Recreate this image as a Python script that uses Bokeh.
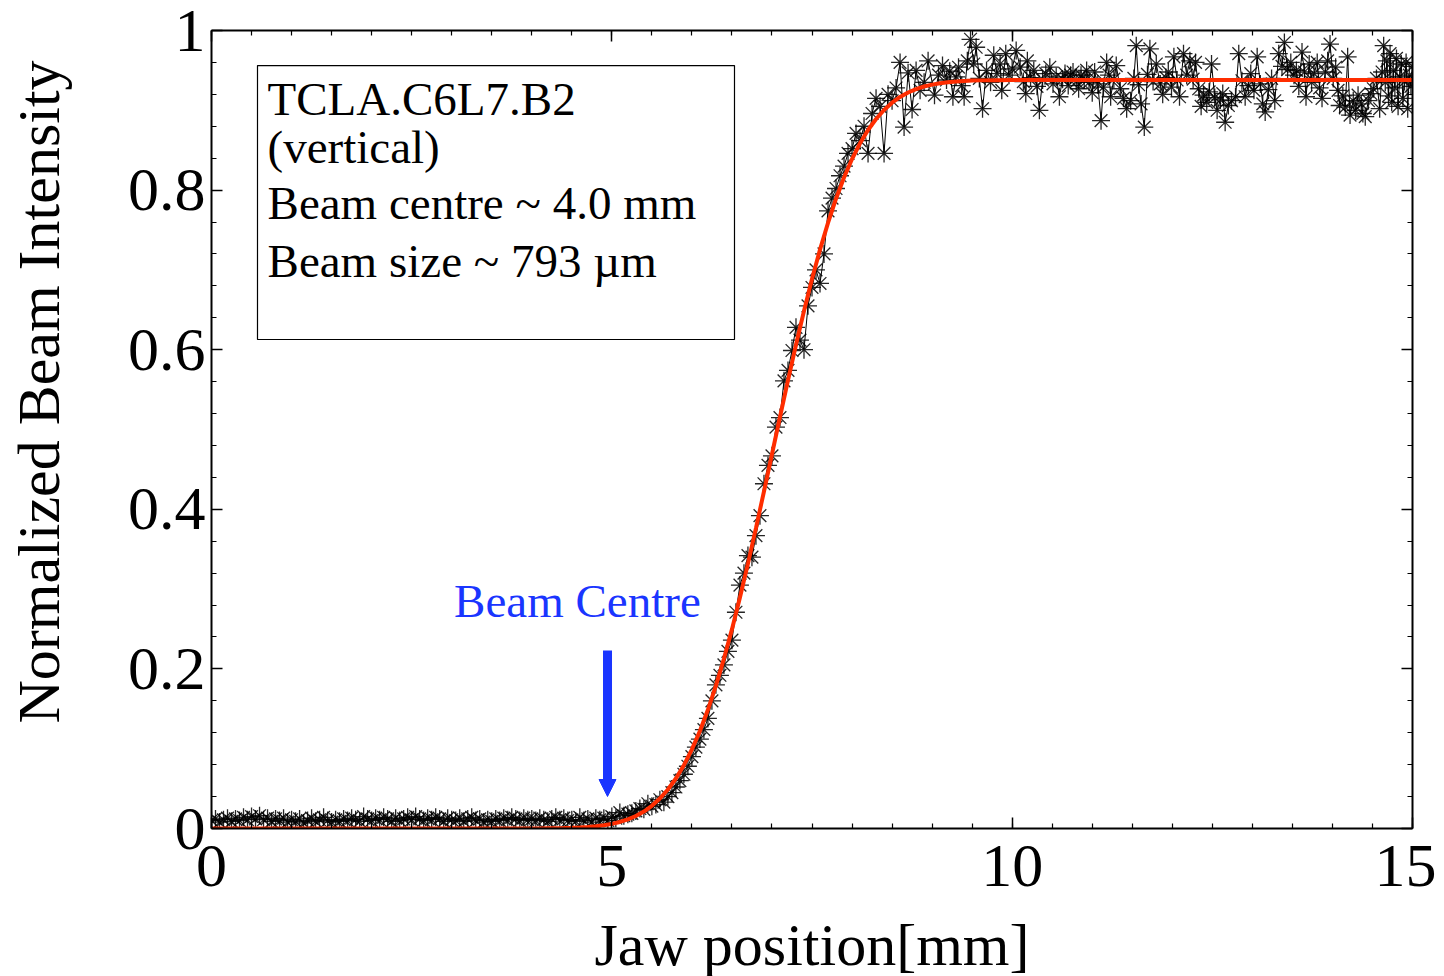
from bokeh.plotting import figure
from bokeh.models import (FixedTicker, LinearAxis, Label, BoxAnnotation, Arrow,
                          NormalHead, Range1d)
from bokeh.embed import file_html
from bokeh.resources import INLINE

FONT = "Liberation Serif"
BLUE = "#1a35ff"
RED = "#ff2d00"

# ---------------- data ----------------
x_flat = [0.00, 0.05, 0.10, 0.15, 0.20, 0.25, 0.30, 0.35, 0.40, 0.45,
          0.50, 0.55, 0.60, 0.65, 0.70, 0.75, 0.80, 0.85, 0.90, 0.95,
          1.00, 1.05, 1.10, 1.15, 1.20, 1.25, 1.30, 1.35, 1.40, 1.45,
          1.50, 1.55, 1.60, 1.65, 1.70, 1.75, 1.80, 1.85, 1.90, 1.95,
          2.00, 2.05, 2.10, 2.15, 2.20, 2.25, 2.30, 2.35, 2.40, 2.45,
          2.50, 2.55, 2.60, 2.65, 2.70, 2.75, 2.80, 2.85, 2.90, 2.95,
          3.00, 3.05, 3.10, 3.15, 3.20, 3.25, 3.30, 3.35, 3.40, 3.45,
          3.50, 3.55, 3.60, 3.65, 3.70, 3.75, 3.80, 3.85, 3.90, 3.95,
          4.00, 4.05, 4.10, 4.15, 4.20, 4.25, 4.30, 4.35, 4.40, 4.45]
y_flat = [0.010, 0.012, 0.008, 0.011, 0.013, 0.009, 0.012, 0.010, 0.014, 0.011,
          0.015, 0.012, 0.016, 0.011, 0.013, 0.009, 0.012, 0.010, 0.013, 0.008,
          0.011, 0.009, 0.012, 0.007, 0.010, 0.013, 0.009, 0.011, 0.014, 0.010,
          0.008, 0.011, 0.009, 0.012, 0.010, 0.013, 0.011, 0.009, 0.015, 0.012,
          0.010, 0.013, 0.011, 0.014, 0.012, 0.009, 0.013, 0.010, 0.012, 0.014,
          0.011, 0.015, 0.012, 0.010, 0.013, 0.011, 0.014, 0.012, 0.009, 0.013,
          0.011, 0.010, 0.013, 0.009, 0.012, 0.014, 0.010, 0.012, 0.008, 0.011,
          0.009, 0.012, 0.010, 0.013, 0.011, 0.014, 0.012, 0.010, 0.013, 0.011,
          0.012, 0.010, 0.013, 0.011, 0.009, 0.012, 0.014, 0.011, 0.013, 0.010]

x_rise = [4.50, 4.55, 4.60, 4.65, 4.70, 4.75, 4.80, 4.85, 4.90, 4.95,
          5.00, 5.05, 5.10, 5.15, 5.20, 5.25, 5.30, 5.35, 5.40, 5.45,
          5.50, 5.55, 5.60, 5.65, 5.70, 5.75, 5.80, 5.85, 5.90, 5.95,
          6.00, 6.05, 6.10, 6.15, 6.20, 6.25, 6.30, 6.35, 6.40, 6.45,
          6.50, 6.55, 6.60, 6.65, 6.70, 6.75, 6.80, 6.85, 6.90, 6.95,
          7.00, 7.05, 7.10, 7.15, 7.20, 7.25, 7.30, 7.35, 7.40, 7.45,
          7.50, 7.55, 7.60, 7.65, 7.70, 7.75, 7.80, 7.85, 7.90, 7.95,
          8.00, 8.05, 8.10, 8.15, 8.20, 8.25, 8.30, 8.35, 8.40, 8.45,
          8.50, 8.55, 8.60, 8.65, 8.70, 8.75, 8.80, 8.85, 8.90, 8.95]
y_rise = [0.011, 0.009, 0.014, 0.010, 0.012, 0.008, 0.013, 0.011, 0.013, 0.010,
          0.015, 0.013, 0.020, 0.016, 0.018, 0.019, 0.022, 0.025, 0.024, 0.031,
          0.028, 0.030, 0.036, 0.033, 0.040, 0.045, 0.052, 0.060, 0.068, 0.078,
          0.090, 0.102, 0.112, 0.124, 0.138, 0.160, 0.180, 0.192, 0.205, 0.222,
          0.236, 0.271, 0.305, 0.320, 0.342, 0.340, 0.367, 0.392, 0.432, 0.455,
          0.467, 0.503, 0.515, 0.561, 0.574, 0.599, 0.628, 0.612, 0.600, 0.655,
          0.678, 0.700, 0.683, 0.720, 0.774, 0.790, 0.802, 0.818, 0.830, 0.846,
          0.852, 0.871, 0.862, 0.880, 0.846, 0.896, 0.915, 0.905, 0.846, 0.920,
          0.912, 0.928, 0.960, 0.879, 0.947, 0.901, 0.950, 0.925, 0.935, 0.962]

x_plat = [9.03, 9.08, 9.13, 9.18, 9.22, 9.26, 9.30, 9.33, 9.37, 9.40,
          9.44, 9.48, 9.52, 9.55, 9.59, 9.63, 9.68, 9.73, 9.77, 9.81,
          9.85, 9.87, 9.92, 9.96, 10.00, 10.05, 10.10, 10.14, 10.17, 10.19,
          10.23, 10.27, 10.31, 10.34, 10.38, 10.42, 10.47, 10.51, 10.55, 10.59,
          10.63, 10.66, 10.70, 10.73, 10.76, 10.80, 10.83, 10.86, 10.90, 10.93,
          10.96, 11.00, 11.03, 11.07, 11.11, 11.14, 11.18, 11.21, 11.23, 11.27,
          11.30, 11.35, 11.39, 11.43, 11.48, 11.52, 11.55, 11.58, 11.61, 11.65,
          11.69, 11.72, 11.76, 11.80, 11.85, 11.88, 11.92, 11.95, 11.99, 12.02,
          12.06, 12.09, 12.14, 12.18, 12.22, 12.26, 12.29, 12.33, 12.36, 12.39,
          12.43, 12.46, 12.49, 12.53, 12.56, 12.60, 12.63, 12.66, 12.70, 12.74,
          12.79, 12.83, 12.87, 12.91, 12.95, 12.98, 13.02, 13.06, 13.10, 13.13,
          13.16, 13.20, 13.24, 13.28, 13.33, 13.37, 13.40, 13.44, 13.48, 13.52,
          13.55, 13.58, 13.62, 13.65, 13.67, 13.71, 13.74, 13.77, 13.81, 13.84,
          13.87, 13.91, 13.94, 13.97, 14.01, 14.04, 14.07, 14.09, 14.13, 14.16,
          14.19, 14.22, 14.26, 14.29, 14.32, 14.36, 14.38, 14.41, 14.45, 14.48,
          14.51, 14.55, 14.59, 14.62, 14.64, 14.66, 14.68, 14.70, 14.72, 14.74,
          14.76, 14.78, 14.80, 14.82, 14.84, 14.86, 14.88, 14.90, 14.92, 14.94,
          14.96, 14.98, 15.00]
y_plat = [0.919, 0.944, 0.956, 0.938, 0.949, 0.917, 0.942, 0.954, 0.931, 0.917,
          0.962, 0.989, 0.958, 0.979, 0.940, 0.902, 0.950, 0.935, 0.969, 0.946,
          0.958, 0.925, 0.971, 0.944, 0.952, 0.975, 0.954, 0.936, 0.921, 0.962,
          0.941, 0.950, 0.930, 0.900, 0.938, 0.946, 0.954, 0.933, 0.942, 0.917,
          0.939, 0.946, 0.931, 0.944, 0.948, 0.936, 0.927, 0.944, 0.938, 0.950,
          0.935, 0.922, 0.948, 0.933, 0.887, 0.929, 0.960, 0.944, 0.917, 0.939,
          0.956, 0.927, 0.915, 0.902, 0.912, 0.940, 0.981, 0.932, 0.908, 0.879,
          0.945, 0.977, 0.936, 0.958, 0.933, 0.920, 0.941, 0.948, 0.929, 0.967,
          0.938, 0.917, 0.971, 0.944, 0.962, 0.939, 0.960, 0.927, 0.905, 0.919,
          0.910, 0.923, 0.958, 0.916, 0.900, 0.913, 0.921, 0.885, 0.906, 0.912,
          0.917, 0.971, 0.937, 0.917, 0.931, 0.946, 0.925, 0.967, 0.933, 0.908,
          0.898, 0.926, 0.940, 0.912, 0.971, 0.955, 0.985, 0.951, 0.960, 0.944,
          0.950, 0.930, 0.973, 0.948, 0.917, 0.958, 0.935, 0.946, 0.960, 0.928,
          0.915, 0.948, 0.962, 0.983, 0.940, 0.954, 0.925, 0.906, 0.918, 0.904,
          0.967, 0.894, 0.912, 0.900, 0.919, 0.908, 0.896, 0.892, 0.912, 0.921,
          0.927, 0.940, 0.902, 0.948, 0.981, 0.935, 0.962, 0.918, 0.971, 0.910,
          0.950, 0.928, 0.965, 0.905, 0.942, 0.958, 0.915, 0.936, 0.960, 0.902,
          0.944, 0.930, 0.955]

# fitted curve (red)
fit_x = [0.0, 4.0, 4.1, 4.2, 4.3, 4.4, 4.5, 4.6, 4.7, 4.8, 4.9, 5.0, 5.1, 5.2,
         5.3, 5.4, 5.5, 5.6, 5.7, 5.8, 5.9, 6.0, 6.1, 6.2, 6.3, 6.4, 6.5, 6.6,
         6.7, 6.8, 6.9, 7.0, 7.1, 7.2, 7.3, 7.4, 7.5, 7.6, 7.7, 7.8, 7.9, 8.0,
         8.1, 8.2, 8.3, 8.4, 8.5, 8.6, 8.7, 8.8, 8.9, 9.0, 9.1, 9.2, 9.3, 9.4,
         9.5, 9.6, 9.8, 10.0, 15.0]
fit_y = [0.0, 0.0001, 0.0001, 0.0002, 0.0003, 0.0005, 0.0008, 0.0013, 0.0019,
         0.0028, 0.0041, 0.0058, 0.0082, 0.0115, 0.0157, 0.0213, 0.0285, 0.0376,
         0.0489, 0.0627, 0.0793, 0.0991, 0.1222, 0.1488, 0.1790, 0.2126, 0.2495,
         0.2894, 0.3319, 0.3764, 0.4223, 0.4690, 0.5157, 0.5616, 0.6061, 0.6486,
         0.6885, 0.7254, 0.7590, 0.7892, 0.8158, 0.8389, 0.8587, 0.8753, 0.8891,
         0.9004, 0.9095, 0.9167, 0.9223, 0.9265, 0.9298, 0.9322, 0.9339, 0.9352,
         0.9361, 0.9367, 0.9372, 0.9375, 0.9378, 0.9379, 0.938]

x_tick_values = [0, 5, 10, 15]
x_tick_labels = ["0", "5", "10", "15"]
y_tick_values = [0.0, 0.2, 0.4, 0.6, 0.8, 1.0]
y_tick_labels = ["0", "0.2", "0.4", "0.6", "0.8", "1"]

info_lines = ["TCLA.C6L7.B2", "(vertical)", "Beam centre ~ 4.0 mm", "Beam size ~ 793 \u00b5m"]
arrow_text = "Beam Centre"
arrow_x = 4.946
x_title = "Jaw position[mm]"
y_title = "Normalized Beam Intensity"

# ---------------- figure ----------------
p = figure(frame_width=1201, frame_height=798,
           x_range=Range1d(0, 15), y_range=Range1d(0, 1),
           output_backend="svg", toolbar_location=None,
           min_border_left=211, min_border_right=24,
           min_border_top=30, min_border_bottom=140,
           background_fill_color="white", border_fill_color="white")
p.grid.visible = False
p.outline_line_color = None

x_minor = [0.5 * i for i in range(31)]
y_minor = [0.04 * i for i in range(26)]

p.add_layout(LinearAxis(), "above")
p.add_layout(LinearAxis(), "right")

for ax in p.xaxis:
    ax.ticker = FixedTicker(ticks=x_tick_values, minor_ticks=x_minor)
    ax.major_label_overrides = dict(zip(x_tick_values, x_tick_labels))
for ax in p.yaxis:
    ax.ticker = FixedTicker(ticks=y_tick_values, minor_ticks=y_minor)
    ax.major_label_overrides = dict(zip(y_tick_values, y_tick_labels))

for ax in p.axis:
    ax.axis_line_width = 2
    ax.axis_line_color = "black"
    ax.major_tick_in = 11
    ax.major_tick_out = 0
    ax.minor_tick_in = 5
    ax.minor_tick_out = 0
    ax.major_tick_line_width = 1.5
    ax.minor_tick_line_width = 1.2
    ax.major_tick_line_color = "black"
    ax.minor_tick_line_color = "black"
    ax.major_label_text_font = FONT
    ax.major_label_text_font_size = "62px"
    ax.major_label_text_color = "black"

# bottom axis: labels + title
bx = p.below[0]
bx.major_label_standoff = 17
bx.axis_label = x_title
bx.axis_label_text_font = FONT
bx.axis_label_text_font_size = "60px"
bx.axis_label_text_font_style = "normal"
bx.axis_label_text_color = "black"
bx.axis_label_standoff = 23

# left axis: labels + title (leading no-break spaces shift the centred title up)
lx = p.left[0]
lx.major_label_standoff = 6
lx.axis_label = "\u00a0" * 5 + y_title
lx.axis_label_text_font = FONT
lx.axis_label_text_font_size = "60px"
lx.axis_label_text_font_style = "normal"
lx.axis_label_text_color = "black"
lx.axis_label_standoff = 53

# hide labels on mirrored axes
for ax in (p.above[0], p.right[0]):
    ax.major_label_text_font_size = "1px"
    ax.major_label_text_color = None

x_all = x_flat + x_rise + x_plat
y_all = y_flat + y_rise + y_plat

p.line(x_all, y_all, line_color="black", line_width=1)
p.scatter(x_all, y_all, marker="asterisk", size=18, line_color="black",
          line_width=1.3, line_alpha=0.85)
p.line(fit_x, fit_y, line_color=RED, line_width=4)

# info box
p.add_layout(BoxAnnotation(left=0.5745, right=6.532, bottom=0.6128, top=0.9561,
                           fill_color="white", fill_alpha=1.0,
                           line_color="black", line_alpha=1.0, line_width=1.2))
for txt, yb in zip(info_lines, [0.9147, 0.8546, 0.7844, 0.7117]):
    p.add_layout(Label(x=0.70, y=yb, text=txt, text_font=FONT,
                       text_font_size="47px", text_color="black",
                       text_baseline="alphabetic", text_align="left"))

# beam centre annotation
p.add_layout(Label(x=3.03, y=0.2857, text=arrow_text, text_font=FONT,
                   text_font_size="47px", text_color=BLUE,
                   text_baseline="alphabetic", text_align="left"))
p.add_layout(Arrow(end=NormalHead(size=17, fill_color=BLUE, line_color=BLUE),
                   x_start=arrow_x, y_start=0.2231, x_end=arrow_x, y_end=0.0401,
                   line_color=BLUE, line_width=9))

open("out.html", "w").write(file_html(p, INLINE))
